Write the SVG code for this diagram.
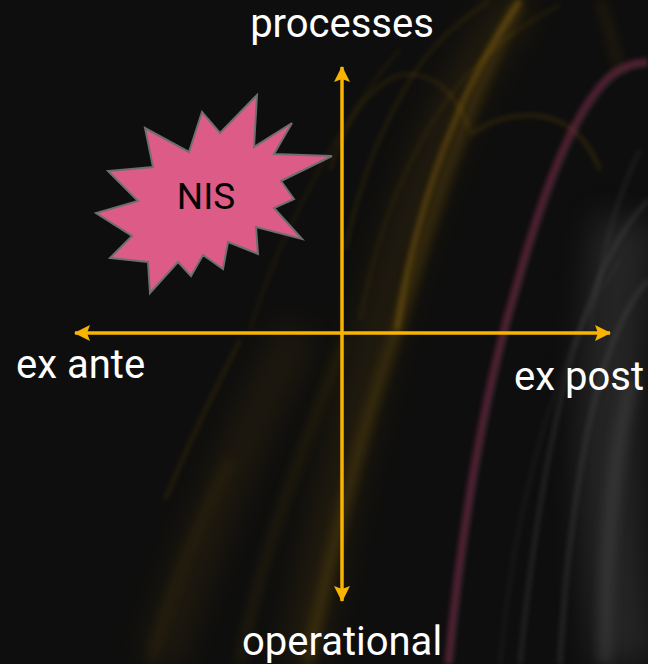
<svg xmlns="http://www.w3.org/2000/svg" width="648" height="664" viewBox="0 0 648 664">
  <defs>
    <filter id="soft" filterUnits="userSpaceOnUse" x="-100" y="-100" width="848" height="864">
      <feGaussianBlur stdDeviation="2.5"/>
    </filter>
    <filter id="softer" filterUnits="userSpaceOnUse" x="-100" y="-100" width="848" height="864">
      <feGaussianBlur stdDeviation="6"/>
    </filter>
    <filter id="haze" filterUnits="userSpaceOnUse" x="-100" y="-100" width="848" height="864">
      <feGaussianBlur stdDeviation="16"/>
    </filter>
    <marker id="head" viewBox="0 0 16 16" refX="15" refY="8" markerWidth="16" markerHeight="16" markerUnits="userSpaceOnUse" orient="auto">
      <path d="M0,0 L16,8 L0,16 L3,8 Z" fill="#f8b400"/>
    </marker>
    <style>
      .axis { stroke: #f8b400; stroke-width: 3.5; fill: none; }
      .label { font-family: Roboto, "Liberation Sans", sans-serif; font-size: 40px; fill: #ffffff; }
      .burst { fill: #dd5c87; stroke: #6e6e6e; stroke-width: 2; stroke-linejoin: miter; }
      .burst-text { font-family: Roboto, "Liberation Sans", sans-serif; font-size: 37px; fill: #050505; }
      .gold { fill: none; stroke: #9a700c; }
      .rose { fill: none; stroke: #7a2c48; }
      .grey { fill: none; stroke: #5c5c5c; }
    </style>
  </defs>

  <!-- backdrop -->
  <rect width="648" height="664" fill="#0e0e0e"/>

  <!-- light streaks -->
  <g id="backdrop-streaks">
    <!-- broad hazes -->
    <path class="gold" d="M300,664 C330,520 360,380 400,250 C430,150 470,60 520,0" stroke-width="40" opacity="0.14" filter="url(#haze)"/>
    <path class="gold" d="M160,664 C200,540 250,420 300,330" stroke-width="40" opacity="0.12" filter="url(#haze)"/>
    <path class="grey" d="M625,664 C605,520 605,380 625,220" stroke-width="60" opacity="0.3" filter="url(#haze)"/>

    <!-- gold strands -->
    <path class="gold" d="M307,664 C330,560 360,430 400,320 C430,220 460,120 520,0" stroke-width="8" opacity="0.35" filter="url(#softer)"/>
    <path class="gold" d="M397,330 C405,270 425,190 455,120 C475,70 500,30 520,0" stroke-width="6" opacity="0.38" filter="url(#soft)"/>
    <path class="gold" d="M330,170 C345,120 370,85 400,75 C430,70 455,90 470,130" stroke-width="2" opacity="0.3" filter="url(#soft)"/>
    <path class="gold" d="M470,135 C490,120 520,110 550,118 C575,125 590,145 600,170" stroke-width="3" opacity="0.28" filter="url(#soft)"/>
    <path class="gold" d="M345,250 C360,180 380,130 410,80 C430,45 460,20 490,0" stroke-width="2" opacity="0.3" filter="url(#soft)"/>
    <path class="gold" d="M360,320 C375,240 400,170 440,110 C470,65 510,30 560,5" stroke-width="2" opacity="0.22" filter="url(#soft)"/>
    <path class="gold" d="M240,664 C260,560 300,450 345,340" stroke-width="5" opacity="0.25" filter="url(#softer)"/>
    <path class="gold" d="M165,500 C190,440 215,390 240,340" stroke-width="3" opacity="0.22" filter="url(#soft)"/>
    <path class="gold" d="M150,664 C170,590 200,520 230,460" stroke-width="6" opacity="0.16" filter="url(#softer)"/>
    <path class="gold" d="M250,330 C265,280 290,220 330,150 C360,100 380,70 400,50" stroke-width="2" opacity="0.2" filter="url(#soft)"/>
    <path class="gold" d="M600,0 C610,30 615,50 620,70" stroke-width="6" opacity="0.2" filter="url(#softer)"/>

    <!-- rose strand -->
    <path class="rose" d="M448,664 C462,520 485,390 515,290 C540,200 572,110 610,76 C625,64 638,62 648,62" stroke-width="7" opacity="0.65" filter="url(#soft)"/>
    <path class="grey" d="M452,664 C466,520 489,390 519,290 C543,205 575,115 612,80 C626,68 638,66 648,66" stroke-width="2" opacity="0.3" filter="url(#soft)"/>

    <!-- grey strands -->
    <path class="grey" d="M520,664 C530,560 550,420 580,330 C600,270 620,230 648,200" stroke-width="3" opacity="0.4" filter="url(#soft)"/>
    <path class="grey" d="M560,664 C565,560 580,450 600,380 C615,330 630,300 648,280" stroke-width="4" opacity="0.35" filter="url(#soft)"/>
    <path class="grey" d="M605,664 C605,560 612,460 632,380" stroke-width="12" opacity="0.35" filter="url(#softer)"/>
    <path class="grey" d="M500,664 C510,560 530,460 560,380 C580,320 600,290 620,260" stroke-width="2" opacity="0.25" filter="url(#soft)"/>
    <path class="grey" d="M590,330 C600,260 615,200 640,150" stroke-width="3" opacity="0.25" filter="url(#soft)"/>
  </g>

  <!-- axes -->
  <g id="connectors">
    <line class="axis" x1="342" y1="333" x2="342" y2="67" marker-end="url(#head)"/>
    <line class="axis" x1="342" y1="333" x2="342" y2="601" marker-end="url(#head)"/>
    <line class="axis" x1="342" y1="333" x2="75" y2="333" marker-end="url(#head)"/>
    <line class="axis" x1="342" y1="333" x2="610" y2="333" marker-end="url(#head)"/>
  </g>

  <!-- axis labels -->
  <g id="label-processes"><text class="label" x="342" y="37" text-anchor="middle">processes</text></g>
  <g id="label-operational"><text class="label" x="342" y="655" text-anchor="middle">operational</text></g>
  <g id="label-ex-ante"><text class="label" x="16" y="378">ex ante</text></g>
  <g id="label-ex-post"><text class="label" x="514" y="390">ex post</text></g>

  <!-- NIS starburst -->
  <g id="node-nis">
    <polygon class="burst" points="257,95 254,147 292,123 274,154 332,156 281,181 294,199 274,208 302,239 256,227 258,254 228,242 223,269 203,255 191,276 178,262 150,293 148,262 110,258 132,236 96,213 138,201 108,171 153,167 145,128 189,152 202,112 220,133"/>
    <text class="burst-text" x="206" y="209" text-anchor="middle">NIS</text>
  </g>
</svg>
